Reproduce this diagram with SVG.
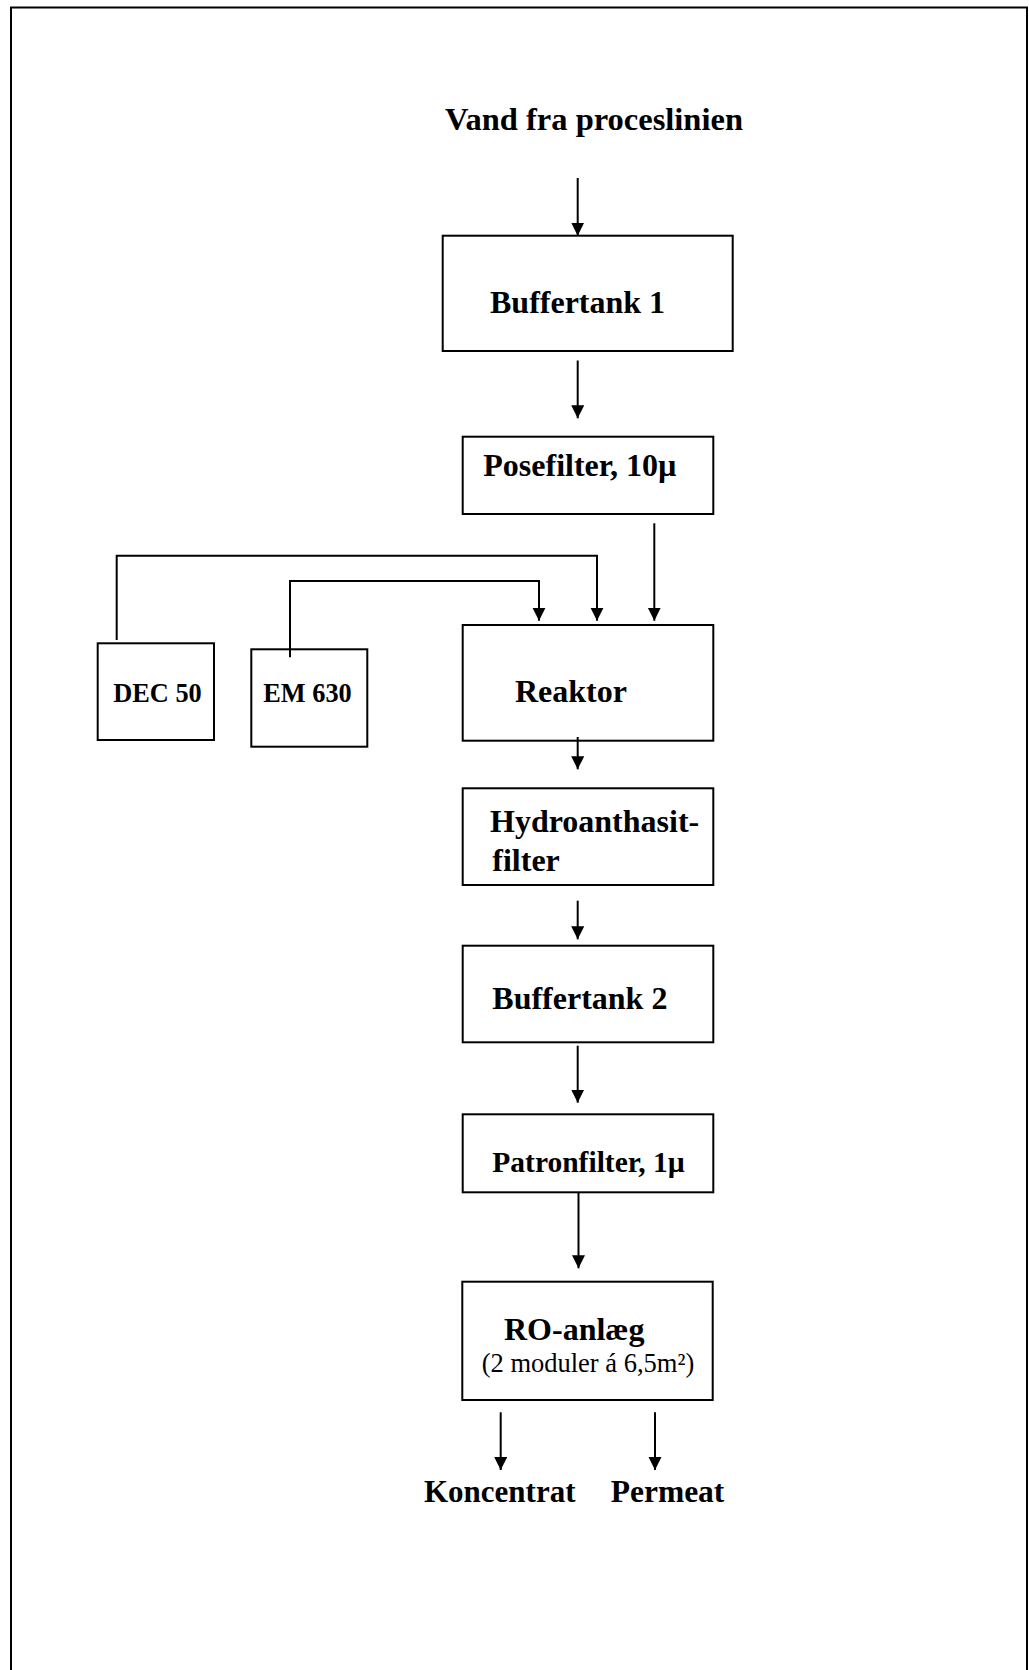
<svg xmlns="http://www.w3.org/2000/svg" width="1029" height="1670" viewBox="0 0 1029 1670">
  <style>
    .box { fill: #fff; stroke: #000; stroke-width: 2; }
    .wire { fill: none; stroke: #000; stroke-width: 2; }
    .lbl { font-family: "Liberation Serif", "Times New Roman", serif; font-weight: bold; font-size: 32px; fill: #000; }
    .sm { font-size: 26.3px; }
    .note { font-family: "Liberation Serif", "Times New Roman", serif; font-size: 26.5px; fill: #000; }
  </style>
  <defs>
    <marker id="arrow" markerUnits="userSpaceOnUse" markerWidth="14" markerHeight="14" refX="13" refY="6.5" orient="auto">
      <path d="M0,0 L13,6.5 L0,13 Z" fill="#000"/>
    </marker>
  </defs>

  <rect width="1029" height="1670" fill="#fff"/>
  <!-- page frame -->
  <rect x="11" y="7.5" width="1016" height="1690" fill="none" stroke="#000" stroke-width="2"/>

  <g id="source">
    <text class="lbl" x="445" y="129.5" style="font-size:32.5px">Vand fra proceslinien</text>
  </g>

  <g id="buffertank1">
    <rect class="box" x="442.7" y="235.7" width="290" height="115.3"/>
    <text class="lbl" x="490" y="312.7">Buffertank 1</text>
  </g>

  <g id="posefilter">
    <rect class="box" x="462.7" y="436.7" width="250.6" height="77.3"/>
    <text class="lbl" x="483.3" y="476">Posefilter, 10µ</text>
  </g>

  <g id="dec50">
    <rect class="box" x="97.7" y="643.3" width="116.3" height="96.7"/>
    <text class="lbl sm" x="113.3" y="702.3">DEC 50</text>
  </g>

  <g id="em630">
    <rect class="box" x="251.3" y="649.3" width="116" height="97.4"/>
    <text class="lbl sm" x="263.3" y="702.3">EM 630</text>
  </g>

  <g id="reaktor">
    <rect class="box" x="462.7" y="625" width="250.6" height="115.7"/>
    <text class="lbl" x="515" y="701.7">Reaktor</text>
  </g>

  <g id="hydroanthasitfilter">
    <rect class="box" x="462.7" y="788.3" width="250.6" height="96.7"/>
    <text class="lbl" x="490" y="832.3">Hydroanthasit-</text>
    <text class="lbl" x="492.3" y="870.7">filter</text>
  </g>

  <g id="buffertank2">
    <rect class="box" x="462.7" y="945.7" width="250.6" height="96.6"/>
    <text class="lbl" x="492.3" y="1009.3">Buffertank 2</text>
  </g>

  <g id="patronfilter">
    <rect class="box" x="462.7" y="1114.3" width="250.6" height="78"/>
    <text class="lbl" x="492.3" y="1171.7" style="font-size:29.5px">Patronfilter, 1µ</text>
  </g>

  <g id="ro-anlaeg">
    <rect class="box" x="462.3" y="1281.7" width="250.4" height="118.3"/>
    <text class="lbl" x="504" y="1340">RO-anlæg</text>
    <text class="note" x="481.7" y="1371.7">(2 moduler á 6,5m²)</text>
  </g>

  <g id="koncentrat">
    <text class="lbl" x="424" y="1501.7" style="font-size:31px">Koncentrat</text>
  </g>

  <g id="permeat">
    <text class="lbl" x="610.7" y="1501.7" style="font-size:31.5px">Permeat</text>
  </g>

  <g id="connectors">
    <line class="wire" x1="577.7" y1="178" x2="577.7" y2="235.7" marker-end="url(#arrow)"/>
    <line class="wire" x1="577.7" y1="360.5" x2="577.7" y2="418.3" marker-end="url(#arrow)"/>
    <line class="wire" x1="654.3" y1="523.3" x2="654.3" y2="620.7" marker-end="url(#arrow)"/>
    <polyline class="wire" points="116.7,640 116.7,555.7 597,555.7 597,620.7" marker-end="url(#arrow)"/>
    <polyline class="wire" points="290,657.3 290,581 539,581 539,620.7" marker-end="url(#arrow)"/>
    <line class="wire" x1="577.7" y1="737" x2="577.7" y2="769.3" marker-end="url(#arrow)"/>
    <line class="wire" x1="577.7" y1="900.7" x2="577.7" y2="939.3" marker-end="url(#arrow)"/>
    <line class="wire" x1="577.7" y1="1045.7" x2="577.7" y2="1102.7" marker-end="url(#arrow)"/>
    <line class="wire" x1="578.5" y1="1192.3" x2="578.5" y2="1268.3" marker-end="url(#arrow)"/>
    <line class="wire" x1="500.7" y1="1412.3" x2="500.7" y2="1470" marker-end="url(#arrow)"/>
    <line class="wire" x1="655" y1="1412.3" x2="655" y2="1470" marker-end="url(#arrow)"/>
  </g>
</svg>
